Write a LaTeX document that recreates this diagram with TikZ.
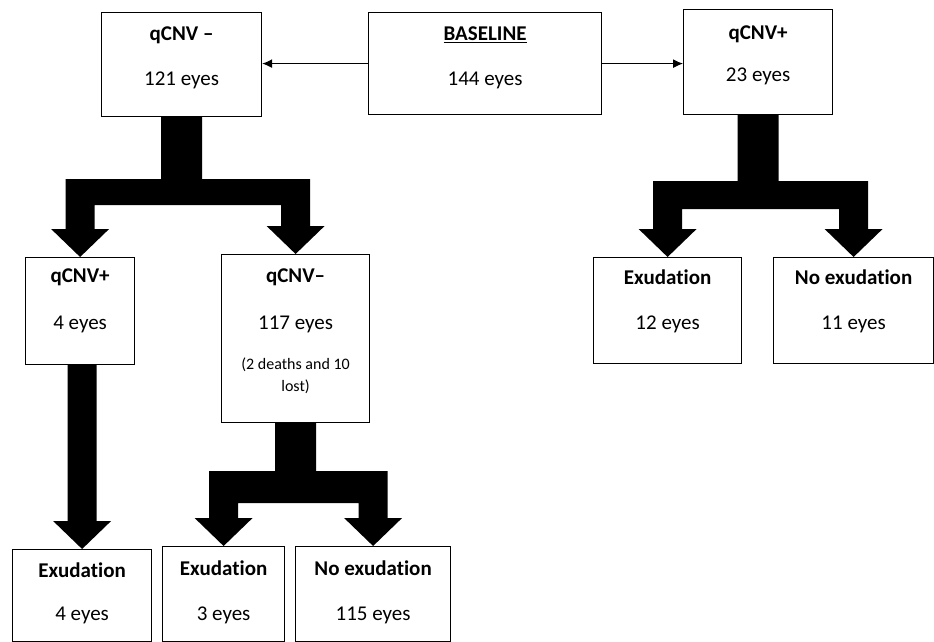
\documentclass[tikz,border=0pt]{standalone}
\usepackage{fontspec}
\setmainfont{Carlito}[Ligatures=NoCommon]
\usetikzlibrary{arrows.meta,calc}

\newcommand{\inbox}[3]{\parbox[c][#2pt][t]{#1pt}{\offinterlineskip\centering #3\par}}
\newcommand{\rowh}[1]{\rule[-6pt]{0pt}{#1pt}}

% fat split arrow: parent, left child, right child, drop, bar thickness
\newcommand{\fatsplit}[5]{%
  \fill let \p1=(#1.south), \p2=(#2.north), \p3=(#3.north) in
    (\x1-20.5pt,\y1) -- (\x1+20.5pt,\y1) -- (\x1+20.5pt,\y1-#4) -- (\x3+14.5pt,\y1-#4)
    -- (\x3+14.5pt,\y3+28pt) -- (\x3+29pt,\y3+28pt) -- (\x3,\y3) -- (\x3-29pt,\y3+28pt)
    -- (\x3-14.5pt,\y3+28pt) -- (\x3-14.5pt,\y1-#4-#5) -- (\x2+14.5pt,\y1-#4-#5)
    -- (\x2+14.5pt,\y2+28pt) -- (\x2+29pt,\y2+28pt) -- (\x2,\y2) -- (\x2-29pt,\y2+28pt)
    -- (\x2-14.5pt,\y2+28pt) -- (\x2-14.5pt,\y1-#4) -- (\x1-20.5pt,\y1-#4) -- cycle;}
\newcommand{\fatdown}[2]{%
  \fill let \p1=(#1.south), \p2=(#2.north) in
    (\x2-14.5pt,\y1) -- (\x2+14.5pt,\y1) -- (\x2+14.5pt,\y2+28pt) -- (\x2+29pt,\y2+28pt)
    -- (\x2,\y2) -- (\x2-29pt,\y2+28pt) -- (\x2-14.5pt,\y2+28pt) -- cycle;}

\begin{document}
\begin{tikzpicture}[x=1pt,y=-1pt,
    box/.style={draw, line width=1.2pt, inner sep=0pt, anchor=north west,
      font=\fontsize{21}{25}\selectfont},
    thin/.style={line width=1.1pt, -{Latex[length=10pt,width=9pt]}}]
  \useasboundingbox (0,0) rectangle (934,642);

  \node[box] at (368,12) (base) {\inbox{233}{102}{\rowh{34}\underline{\textbf{BASELINE}}\par\rowh{45}144 eyes}};
  \node[box] at (101,12) (qm) {\inbox{160}{104}{\rowh{34}\textbf{qCNV –}\par\rowh{45}121 eyes}};
  \node[box] at (683,9) (qp) {\inbox{149}{105}{\rowh{36}\textbf{qCNV+}\par\rowh{42}23 eyes}};

  \node[box] at (25,257) (qp2) {\inbox{109}{107}{\rowh{31}\textbf{qCNV+}\par\rowh{47}4 eyes}};
  \node[box] at (221,254) (qm2) {\inbox{148}{168}{\rowh{34}\textbf{qCNV–}\par\rowh{47}117 eyes\par
    \fontsize{16}{20}\selectfont\rowh{40}(2 deaths and 10\par\rowh{22}lost)}};
  \node[box] at (593,257) (ex1) {\inbox{148}{106}{\rowh{33}\textbf{Exudation}\par\rowh{45}12 eyes}};
  \node[box] at (773,257) (nex1) {\inbox{160}{106}{\rowh{33}\textbf{No exudation}\par\rowh{45}11 eyes}};

  \node[box] at (12,549) (ex2) {\inbox{139}{92}{\rowh{34}\textbf{Exudation}\par\rowh{43}4 eyes}};
  \node[box] at (162,546) (ex3) {\inbox{122}{95}{\rowh{35}\textbf{Exudation}\par\rowh{45}3 eyes}};
  \node[box] at (295,546) (nex2) {\inbox{155}{95}{\rowh{35}\textbf{No exudation}\par\rowh{45}115 eyes}};

  \draw[thin] (base.west) -- (base.west -| qm.east);
  \draw[thin] (base.east) -- (base.east -| qp.west);

  \fatsplit{qm}{qp2}{qm2}{62pt}{26pt}
  \fatsplit{qp}{ex1}{nex1}{66pt}{28pt}
  \fatsplit{qm2}{ex3}{nex2}{48pt}{32pt}
  \fatdown{qp2}{ex2}
\end{tikzpicture}
\end{document}
